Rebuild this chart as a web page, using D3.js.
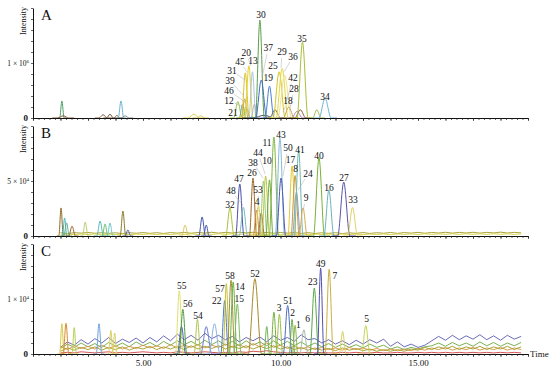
<!DOCTYPE html>
<html>
<head>
<meta charset="utf-8">
<script src="https://cdn.jsdelivr.net/npm/d3@7"></script>
<style>
body{margin:0;background:#fff}
text{font-family:"Liberation Serif","Times New Roman",serif;fill:#111}
</style>
</head>
<body>
<script>
// retention time axis (min)
const timeDomain = [1, 19];
const timeTicks = [5, 10, 15];

// peaks: id, retention time (min), height, half base width (min)
// A: units of 1e6
const peaksA = [
  {id:'a1',rt:2.05,h:0.31,w:0.08},{id:'a2',rt:2.1,h:0.04,w:0.2},{id:'a3',rt:3.55,h:0.06,w:0.15},
  {id:'a4',rt:3.8,h:0.07,w:0.12},{id:'a5',rt:4.05,h:0.05,w:0.1},{id:'a6',rt:4.2,h:0.31,w:0.1},
  {id:'a7',rt:4.35,h:0.04,w:0.15},{id:'a8',rt:6.85,h:0.07,w:0.2},{id:'a9',rt:7.1,h:0.04,w:0.15},
  {id:'21',rt:8.45,h:0.3,w:0.15},{id:'12',rt:8.62,h:0.25,w:0.12},{id:'46',rt:8.7,h:0.35,w:0.12},
  {id:'39',rt:8.75,h:0.2,w:0.15},{id:'31',rt:8.72,h:0.82,w:0.14},{id:'45',rt:8.85,h:0.95,w:0.15},
  {id:'13',rt:8.98,h:0.84,w:0.13},{id:'20',rt:9.05,h:0.25,w:0.12},{id:'a10',rt:9.4,h:0.05,w:0.4},
  {id:'30',rt:9.25,h:1.78,w:0.16},{id:'37',rt:9.3,h:0.69,w:0.2},{id:'19',rt:9.6,h:0.58,w:0.16},
  {id:'a11',rt:9.8,h:0.15,w:0.2},{id:'25',rt:9.95,h:0.84,w:0.22},{id:'29',rt:10.06,h:0.9,w:0.22},
  {id:'36',rt:10.15,h:0.78,w:0.25},{id:'42',rt:10.3,h:0.2,w:0.2},{id:'18',rt:10.6,h:0.12,w:0.2},
  {id:'28',rt:10.72,h:0.15,w:0.2},{id:'35',rt:10.8,h:1.38,w:0.2},{id:'a12',rt:11.32,h:0.15,w:0.15},
  {id:'34',rt:11.62,h:0.36,w:0.22}
];
// B: units of 1e4
const peaksB = [
  {id:'b1',rt:2.02,h:2.55,w:0.08},{id:'b2',rt:2.15,h:1.64,w:0.08},{id:'b3',rt:2.22,h:1.2,w:0.1},
  {id:'b4',rt:2.42,h:0.9,w:0.12},{id:'b5',rt:2.9,h:1.27,w:0.1},{id:'b6',rt:3.44,h:1.36,w:0.12},
  {id:'b7',rt:3.62,h:1.1,w:0.1},{id:'b8',rt:3.8,h:1.18,w:0.1},{id:'b9',rt:4.27,h:2.27,w:0.1},
  {id:'b10',rt:4.45,h:0.55,w:0.1},{id:'b11',rt:6.53,h:1.0,w:0.12},{id:'b12',rt:7.15,h:1.73,w:0.12},
  {id:'b13',rt:7.3,h:1.0,w:0.1},
  {id:'32',rt:8.16,h:2.55,w:0.15},{id:'47',rt:8.52,h:4.73,w:0.15},{id:'48',rt:8.65,h:2.6,w:0.15},
  {id:'26',rt:9.0,h:5.27,w:0.13},{id:'4',rt:9.13,h:2.36,w:0.12},{id:'53',rt:9.2,h:2.8,w:0.12},
  {id:'b14',rt:9.3,h:2.1,w:0.12},{id:'38',rt:9.38,h:5.0,w:0.13},{id:'44',rt:9.46,h:5.45,w:0.14},
  {id:'10',rt:9.6,h:5.1,w:0.13},{id:'11',rt:9.76,h:9.0,w:0.17},{id:'43',rt:9.98,h:8.9,w:0.17},
  {id:'50',rt:10.02,h:5.27,w:0.17},{id:'17',rt:10.42,h:6.36,w:0.15},{id:'8',rt:10.53,h:5.5,w:0.15},
  {id:'24',rt:10.58,h:4.0,w:0.15},{id:'41',rt:10.66,h:7.8,w:0.16},{id:'9',rt:10.82,h:2.55,w:0.15},
  {id:'40',rt:11.4,h:7.1,w:0.2},{id:'16',rt:11.76,h:4.2,w:0.18},{id:'27',rt:12.3,h:4.9,w:0.22},
  {id:'33',rt:12.62,h:2.6,w:0.18}
];
// C: units of 1e4
const peaksC = [
  {id:'c1',rt:2.05,h:0.55,w:0.08},{id:'c2',rt:2.2,h:0.56,w:0.1},{id:'c3',rt:2.5,h:0.48,w:0.08},
  {id:'c4',rt:3.4,h:0.55,w:0.1},{id:'c5',rt:3.83,h:0.43,w:0.08},{id:'c6',rt:3.97,h:0.38,w:0.08},
  {id:'55',rt:6.32,h:1.15,w:0.14},{id:'c7',rt:6.4,h:0.5,w:0.15},{id:'56',rt:6.45,h:0.81,w:0.14},
  {id:'54',rt:6.98,h:0.63,w:0.12},{id:'c8',rt:7.3,h:0.5,w:0.2},{id:'c9',rt:7.6,h:0.55,w:0.2},
  {id:'22',rt:7.97,h:0.97,w:0.14},{id:'57',rt:8.03,h:1.28,w:0.12},{id:'58',rt:8.2,h:1.34,w:0.14},
  {id:'14',rt:8.28,h:1.31,w:0.14},{id:'15',rt:8.43,h:0.91,w:0.14},{id:'52',rt:9.07,h:1.37,w:0.24},
  {id:'c10',rt:9.5,h:0.5,w:0.1},{id:'3',rt:9.76,h:0.76,w:0.12},{id:'c11',rt:9.96,h:0.72,w:0.12},
  {id:'51',rt:10.26,h:0.88,w:0.16},{id:'2',rt:10.42,h:0.63,w:0.1},{id:'1',rt:10.53,h:0.52,w:0.1},
  {id:'6',rt:10.85,h:0.44,w:0.15},{id:'23',rt:11.23,h:1.2,w:0.16},{id:'49',rt:11.46,h:1.56,w:0.12},
  {id:'7',rt:11.77,h:1.54,w:0.15},{id:'c12',rt:12.26,h:0.41,w:0.12},{id:'5',rt:13.1,h:0.52,w:0.15}
];

// baseline noise traces, sampled every 0.25 min from 2.0 min
const noiseB = {
  olive:[0.3,0.22,0.3,0.26,0.32,0.25,0.3,0.24,0.29,0.22,0.3,0.25,0.31,0.24,0.3,0.23,0.31,0.26,0.33,0.25,0.32,0.27,0.34,0.26,0.33,0.27,0.35,0.28,0.34,0.26,0.33,0.25,0.32,0.26,0.31,0.24,0.3,0.23,0.29,0.24,0.3,0.22,0.29,0.24,0.31,0.23,0.3,0.25,0.32,0.24,0.31,0.26,0.33,0.25,0.32,0.27,0.34,0.26,0.33,0.27,0.34,0.26,0.33,0.28,0.35,0.27,0.33,0.28],
  yellow:[0.1,0.17,0.12,0.18,0.13,0.19,0.12,0.17,0.13,0.18,0.12,0.17,0.14,0.19,0.13,0.18,0.12,0.19,0.14,0.2,0.13,0.19,0.14,0.21,0.15,0.2,0.14,0.21,0.15,0.2,0.14,0.19,0.13,0.18,0.14,0.19,0.12,0.18,0.13,0.17,0.12,0.18,0.13,0.17,0.12,0.18,0.13,0.19,0.12,0.18,0.14,0.19,0.13,0.2,0.14,0.19,0.15,0.2,0.14,0.21,0.15,0.2,0.14,0.21,0.15,0.2,0.14,0.2]
};
const noiseC = {
  blue:[0.12,0.22,0.16,0.26,0.18,0.28,0.2,0.3,0.19,0.27,0.21,0.29,0.2,0.3,0.22,0.33,0.24,0.36,0.26,0.34,0.25,0.38,0.28,0.34,0.26,0.32,0.22,0.3,0.24,0.31,0.22,0.33,0.25,0.3,0.23,0.35,0.26,0.28,0.2,0.26,0.18,0.24,0.17,0.25,0.18,0.26,0.2,0.27,0.14,0.22,0.13,0.18,0.12,0.16,0.24,0.32,0.25,0.34,0.26,0.33,0.27,0.35,0.26,0.33,0.25,0.34,0.27,0.32],
  green:[0.1,0.18,0.12,0.2,0.13,0.19,0.12,0.21,0.14,0.2,0.13,0.22,0.15,0.21,0.14,0.23,0.16,0.24,0.17,0.23,0.16,0.25,0.17,0.24,0.16,0.23,0.15,0.24,0.16,0.22,0.15,0.24,0.16,0.23,0.15,0.22,0.14,0.2,0.13,0.19,0.12,0.18,0.12,0.17,0.11,0.18,0.12,0.16,0.09,0.13,0.08,0.12,0.09,0.13,0.15,0.2,0.14,0.21,0.15,0.2,0.14,0.22,0.15,0.21,0.14,0.2,0.15,0.21],
  orange:[0.14,0.08,0.15,0.1,0.14,0.09,0.16,0.1,0.15,0.09,0.14,0.1,0.16,0.11,0.15,0.1,0.17,0.11,0.16,0.12,0.17,0.11,0.16,0.12,0.18,0.12,0.17,0.11,0.19,0.13,0.2,0.12,0.16,0.1,0.14,0.09,0.13,0.08,0.12,0.08,0.11,0.07,0.12,0.08,0.11,0.07,0.1,0.06,0.09,0.06,0.09,0.06,0.1,0.07,0.11,0.08,0.12,0.07,0.11,0.08,0.12,0.07,0.11,0.08,0.12,0.07,0.11,0.08],
  olive:[0.05,0.11,0.07,0.12,0.08,0.13,0.07,0.12,0.08,0.13,0.07,0.12,0.09,0.14,0.08,0.13,0.09,0.14,0.08,0.15,0.09,0.14,0.1,0.15,0.09,0.14,0.1,0.15,0.09,0.14,0.1,0.15,0.09,0.13,0.08,0.12,0.07,0.11,0.07,0.1,0.06,0.11,0.07,0.1,0.06,0.09,0.05,0.08,0.05,0.08,0.05,0.09,0.07,0.12,0.08,0.13,0.09,0.14,0.08,0.13,0.09,0.14,0.08,0.13,0.09,0.14,0.08,0.13],
  red:[0.02,0.03,0.02,0.04,0.03,0.02,0.03,0.04,0.02,0.03,0.02,0.03,0.04,0.03,0.02,0.03,0.02,0.04,0.03,0.02,0.03,0.04,0.03,0.02,0.03,0.02,0.04,0.03,0.05,0.04,0.06,0.04,0.03,0.02,0.03,0.02,0.03,0.02,0.03,0.02,0.02,0.03,0.02,0.03,0.02,0.02,0.03,0.02,0.02,0.03,0.02,0.02,0.03,0.02,0.03,0.02,0.03,0.02,0.03,0.02,0.03,0.02,0.03,0.02,0.03,0.02,0.03,0.02]
};
const noiseStart = 2.0, noiseStep = 0.25;

// peak labels: text, label time, label intensity, [leader target time, intensity]
const labelsA = [
  ['30',9.29,1.87],['35',10.78,1.44],['34',11.62,0.38],['37',9.55,1.27,9.33,0.73],
  ['20',8.75,1.18,8.93,0.95],['29',10.05,1.2,10.02,0.91],['36',10.45,1.11,10.13,0.84],
  ['45',8.53,1.02,8.78,0.84],['13',9.0,1.04],['25',9.73,0.95],['31',8.24,0.86,8.71,0.69],
  ['19',9.55,0.73],['42',10.45,0.73,10.24,0.33],['39',8.16,0.68,8.67,0.4],
  ['28',10.49,0.53,10.35,0.18],['46',8.13,0.5,8.71,0.29],['12',8.13,0.32,8.71,0.18],
  ['18',10.27,0.31,10.09,0.11],['21',8.27,0.09]
];
const labelsB = [
  ['43',10.02,9.18],['11',9.51,8.45],['50',10.27,8.0,10.09,5.45],['41',10.71,7.82],['40',11.4,7.27],
  ['44',9.18,7.55,9.44,5.64],['10',9.51,6.82],['38',9.0,6.7,9.36,5.27],['17',10.36,6.9],
  ['8',10.55,6.1],['24',11.0,5.64,10.64,4.18],['26',8.96,5.75],['47',8.49,5.18],['27',12.31,5.27],
  ['16',11.76,4.36],['48',8.2,4.09,8.64,2.82],['53',9.18,4.18,9.22,2.82],['9',10.93,3.45,10.82,2.36],
  ['33',12.64,3.27],['32',8.16,2.82],['4',9.15,3.09,9.18,2.18]
];
const labelsC = [
  ['55',6.41,1.25],['56',6.63,0.91],['54',7.0,0.7],['57',7.8,1.19],['22',7.68,0.97],['58',8.16,1.43],
  ['14',8.53,1.23],['15',8.5,1.0],['52',9.07,1.46],['3',9.95,0.85],['51',10.27,0.97],['2',10.44,0.76],
  ['1',10.65,0.54],['6',10.99,0.64],['23',11.17,1.32],['49',11.46,1.65],['7',11.98,1.43],['5',13.13,0.64]
];

// trace colours
const colors = {
  a1:'#4fa06a',a2:'#8b5a3a',a3:'#8b5a3a',a4:'#6b5a4a',a5:'#9a6a3a',a6:'#6ab4d0',a7:'#888',a8:'#e0d040',a9:'#d8c860',
  '21':'#9cc34a','12':'#6fa08a','46':'#c8a83a','39':'#b6c85a','31':'#d8c030','45':'#e8d22a','13':'#a8c6e0',
  '20':'#b0b0c8',a10:'#555','30':'#5a9e4a','37':'#3c6cc0','19':'#4a7fd0',a11:'#6e6e6e','25':'#d4c420',
  '29':'#e6d640','36':'#efe48a','42':'#c8a060','18':'#b080b0','28':'#8c5a3c','35':'#a8bf38',a12:'#a0c050','34':'#72b6d8',
  b1:'#8c6a20',b2:'#4ab8c8',b3:'#60b090',b4:'#9a6a30',b5:'#b8d070',b6:'#58b8c0',b7:'#70c070',b8:'#70c8c8',
  b9:'#8a7a28',b10:'#5060b0',b11:'#d8c860',b12:'#4858b0',b13:'#4858b0',
  '32':'#a8c038','47':'#4a4ea8','48':'#78b8c0','26':'#9a6a2a','4':'#c88a40','53':'#e6cc50',b14:'#a06a4a',
  '38':'#98c878','44':'#b8c83e','10':'#6aa83c','11':'#80b440','43':'#84b6dc','50':'#4a56b0','17':'#e0c838',
  '8':'#c8983a','24':'#90a0c0','41':'#70b8b0','9':'#d8a850','40':'#7ab034','16':'#6ab4bc','27':'#5a52aa','33':'#e0d064',
  c1:'#d8c840',c2:'#d88a30',c3:'#b8cc50',c4:'#6aa0d8',c5:'#d8d060',c6:'#d8d060',
  '55':'#e0e070',c7:'#5060b0','56':'#4a9a48','54':'#b0c450',c8:'#6a7ad0',c9:'#8ab0e0','22':'#4a7cc4',
  '57':'#c8c030','58':'#a09030','14':'#68b040','15':'#80b860','52':'#a88a2a',c10:'#70b050','3':'#78b040',
  c11:'#9ac040','51':'#4c6cc0','2':'#6aaa40','1':'#8ab84a','6':'#a8b8a8','23':'#58a848','49':'#5050b0',
  '7':'#c8b040',c12:'#d8d060','5':'#c4d450'
};
const noiseColors = {olive:'#a09a20',yellow:'#d8d040',blue:'#5a5ab0',green:'#6aa840',orange:'#d89040',red:'#d04040'};

const W = 550, H = 369;
const svg = d3.select("body").append("svg").attr("width",W).attr("height",H);
const x = d3.scaleLinear().domain(timeDomain).range([33, 528]);

const panels = [
  {name:'A',peaks:peaksA,noise:{},labels:labelsA,max:2,unit:'1',exp:'6',base:118},
  {name:'B',peaks:peaksB,noise:noiseB,labels:labelsB,max:10,unit:'5',exp:'4',base:236},
  {name:'C',peaks:peaksC,noise:noiseC,labels:labelsC,max:2,unit:'1',exp:'4',base:354}
];

panels.forEach(p=>{
  const y = d3.scaleLinear().domain([0,p.max]).range([p.base, p.base-110]);
  const g = svg.append("g");
  const line = d3.line().x(d=>x(d[0])).y(d=>y(d[1]));

  // noise
  Object.keys(p.noise).forEach(k=>{
    const pts = p.noise[k].map((v,i)=>[noiseStart+i*noiseStep, v]);
    g.append("path").attr("d", line(pts))
      .attr("fill","none").attr("stroke",noiseColors[k]).attr("stroke-width",0.9);
  });

  // peaks
  const pline = d3.line().x(d=>x(d[0])).y(d=>y(d[1])).curve(d3.curveMonotoneX);
  p.peaks.forEach(pk=>{
    const pts = [[pk.rt-2*pk.w,0],[pk.rt-pk.w,0],[pk.rt,pk.h],[pk.rt+pk.w,0],[pk.rt+2*pk.w,0]];
    g.append("path").attr("d", pline(pts))
      .attr("fill","none").attr("stroke",colors[pk.id]).attr("stroke-width",1);
  });

  // x axis
  const xa = g.append("g").attr("transform",`translate(0,${p.base})`);
  xa.call(d3.axisBottom(x).tickValues(d3.range(1,19.001,0.2)).tickSize(2).tickSizeOuter(0).tickFormat(""));
  xa.append("g").call(d3.axisBottom(x).tickValues(d3.range(1,19.5,1)).tickSize(3).tickFormat(""))
    .select(".domain").remove();
  xa.selectAll("line").attr("stroke","#222").attr("stroke-width",0.7);
  xa.select(".domain").attr("stroke","#111").attr("stroke-width",1.1);
  if(p.name==='C'){
    const lab = xa.append("g").call(d3.axisBottom(x).tickValues(timeTicks).tickSize(0).tickPadding(6).tickFormat(d3.format(".2f")));
    lab.select(".domain").remove();
    lab.selectAll("text").style("font-family",'"Liberation Serif",serif').style("font-size","9px").attr("fill","#111");
    g.append("text").attr("x",530).attr("y",p.base+3).style("font-size","9px").text("Time");
  }

  // y axis
  const ya = g.append("g").attr("transform","translate(33,0)");
  ya.call(d3.axisLeft(y).tickValues(d3.range(0,p.max*1.0001,p.max/10)).tickSize(2).tickSizeOuter(0).tickFormat(""));
  ya.selectAll("line").attr("stroke","#222").attr("stroke-width",0.7);
  ya.select(".domain").attr("stroke","#111").attr("stroke-width",1);

  g.append("text").attr("x",28).attr("y",p.base+3).attr("text-anchor","end")
    .style("font-size","9px").style("font-weight","bold").text("0");
  const t = g.append("text").attr("x",29).attr("y",y(p.max/2)+2.5).attr("text-anchor","end").style("font-size","7.5px");
  t.append("tspan").text(p.unit + " × 10");
  t.append("tspan").attr("dy",-3).style("font-size","5px").text(p.exp);

  g.append("text").attr("transform",`translate(26,${p.base-97}) rotate(-90)`).attr("text-anchor","middle")
    .style("font-size","8px").text("Intensity");
  g.append("text").attr("x",41).attr("y",p.base-98).style("font-size","15px").text(p.name);

  // labels with leader lines
  p.labels.forEach(l=>{
    const lx = x(l[1]), ly = y(l[2]);
    if(l.length>3){
      const tx = x(l[3]), ty = y(l[4]);
      const dx = tx-lx, dy = ty-ly, len = Math.hypot(dx,dy);
      g.append("line").attr("x1",lx+dx/len*6).attr("y1",ly+dy/len*6).attr("x2",tx).attr("y2",ty)
        .attr("stroke","#aaa").attr("stroke-width",0.5);
    }
    g.append("text").attr("x",lx).attr("y",ly).attr("dy","0.35em").attr("text-anchor","middle")
      .style("font-size","9.5px").text(l[0]);
  });
});
</script>
</body>
</html>
